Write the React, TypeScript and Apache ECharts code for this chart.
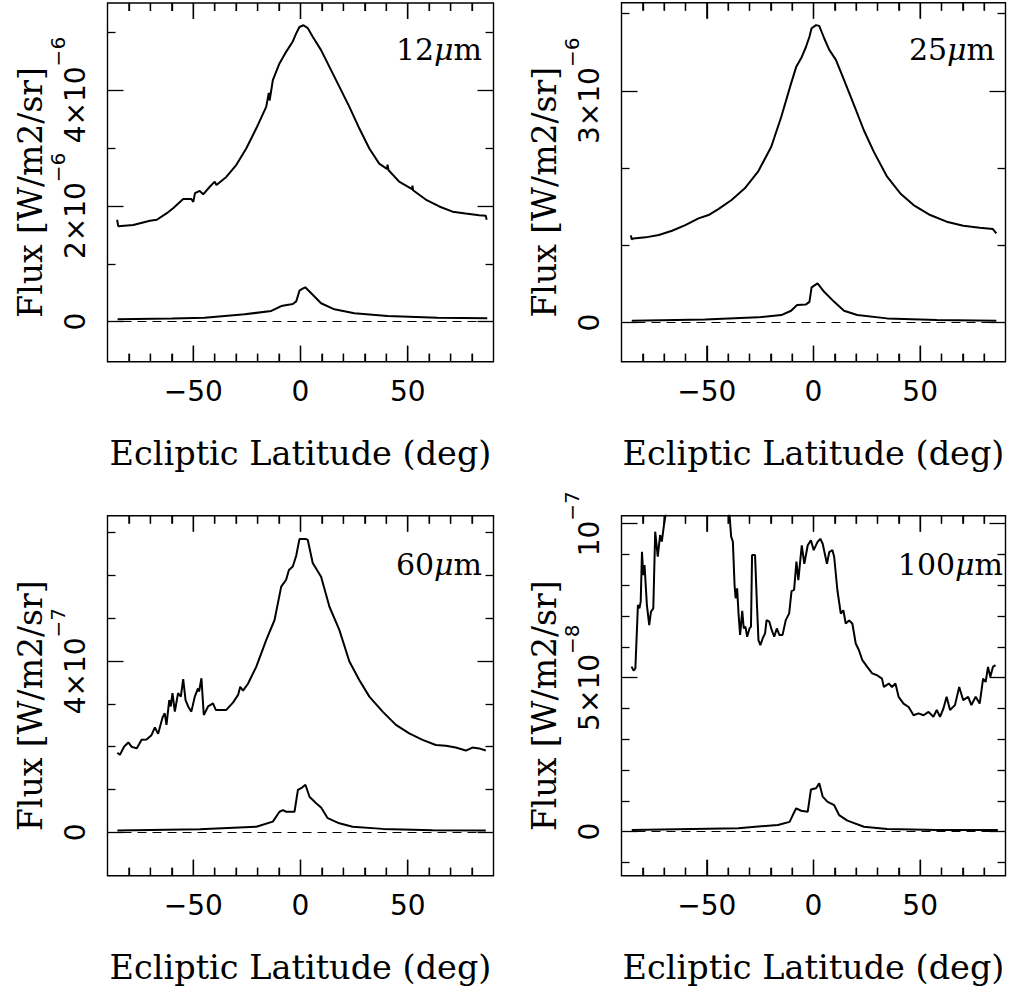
import React, { useEffect, useRef } from "react";
import * as echarts from "echarts";

// ---------- data (latitude in deg, flux in units of the panel's power of ten) ----------
// 12 micron: flux in 1e-6 W/m2/sr
const LAT_12_TOTAL = [-85.5, -85, -78, -70.2, -67, -62.5, -59.4, -54.7, -50.9, -50, -49.2, -47, -45.4, -42.3, -40, -39.2, -34.6, -29.9, -25.3, -20.6, -16, -14.8, -14.4, -12.9, -9.8, -6.7, -3.6, -2, -0.5, 1.4, 3.4, 5.7, 9.6, 13.5, 18.1, 22.8, 27.4, 32.1, 36.7, 40.3, 40.6, 41, 46, 52, 52.2, 52.5, 58.4, 64.7, 70.9, 77, 83.3, 86.4, 86.8];
const FLUX_12_TOTAL = [1.76, 1.65, 1.67, 1.744, 1.76, 1.87, 1.96, 2.12, 2.12, 2.07, 2.22, 2.26, 2.2, 2.33, 2.42, 2.36, 2.5, 2.71, 2.99, 3.34, 3.71, 3.95, 3.82, 4.17, 4.46, 4.66, 4.84, 4.98, 5.09, 5.12, 5.07, 4.92, 4.69, 4.4, 4.06, 3.71, 3.34, 2.99, 2.73, 2.64, 2.71, 2.62, 2.42, 2.29, 2.35, 2.27, 2.11, 1.99, 1.9, 1.87, 1.84, 1.83, 1.76];
const LAT_12_RESID = [-85.3, -60, -44.7, -26, -13.6, -9, -5, -3.6, -2, -0.5, 1, 2.2, 5, 9.6, 15.8, 25.1, 40.6, 63.9, 87.1];
const FLUX_12_RESID = [0.041, 0.055, 0.069, 0.128, 0.185, 0.27, 0.295, 0.306, 0.35, 0.535, 0.57, 0.594, 0.49, 0.318, 0.214, 0.145, 0.098, 0.07, 0.058];

// 25 micron: flux in 1e-6 W/m2/sr
const LAT_25_TOTAL = [-85.6, -85.2, -84.5, -78.7, -72.5, -66.3, -60.1, -53.9, -49.2, -44.6, -38.4, -32.2, -26, -19.8, -15.1, -10.5, -8.1, -5.8, -3.5, -1.9, -0.9, 1.2, 2.7, 5, 7.4, 10.5, 14.3, 19, 23.6, 28.3, 34.5, 40.7, 46.9, 54.7, 62.4, 70.2, 77.9, 84.1, 85.7];
const FLUX_25_TOTAL = [1.13, 1.078, 1.09, 1.104, 1.134, 1.19, 1.263, 1.35, 1.393, 1.47, 1.587, 1.738, 1.953, 2.277, 2.665, 3.096, 3.31, 3.42, 3.57, 3.7, 3.81, 3.85, 3.84, 3.68, 3.53, 3.4, 3.14, 2.816, 2.49, 2.21, 1.889, 1.673, 1.522, 1.393, 1.307, 1.255, 1.229, 1.212, 1.156];
const LAT_25_RESID = [-85.2, -50.8, -26, -15.1, -10.5, -7.7, -3.5, -1.9, -0.9, 1.9, 5, 9.7, 14.3, 20.5, 34.5, 57.8, 85.7];
const FLUX_25_RESID = [0.026, 0.043, 0.069, 0.099, 0.155, 0.229, 0.237, 0.27, 0.457, 0.509, 0.4, 0.27, 0.155, 0.099, 0.056, 0.034, 0.026];

// 60 micron: flux in 1e-7 W/m2/sr
const LAT_60_TOTAL = [-85.4, -84.2, -82.3, -80.3, -78.8, -76.4, -74.1, -71.8, -69.5, -67.9, -66.4, -64.3, -63.3, -62.5, -61.2, -60.5, -59.7, -58.6, -57.1, -55.8, -54.7, -53.6, -52.4, -50.9, -49.3, -47.8, -47.3, -46.2, -45.1, -43.1, -40.8, -39.5, -36.9, -34.6, -31.5, -29.1, -28.1, -26.8, -24.5, -20.6, -16, -12.1, -9, -6.7, -5.4, -3.6, -2, -0.5, 2.6, 3.4, 5.7, 9.6, 13.5, 18.1, 22.8, 27.4, 32.1, 38.3, 44.5, 50.7, 56.9, 63.1, 67.8, 72.4, 77.1, 80.2, 83.3, 86.4];
const FLUX_60_TOTAL = [1.86, 1.81, 2.0, 2.1, 2.0, 1.96, 2.16, 2.17, 2.27, 2.45, 2.3, 2.69, 2.78, 2.51, 3.09, 2.94, 3.25, 2.82, 3.25, 3.17, 3.58, 3.09, 2.94, 2.82, 3.17, 3.36, 3.29, 3.6, 2.74, 2.94, 3.01, 2.86, 2.86, 2.86, 3.03, 3.21, 3.4, 3.31, 3.47, 3.87, 4.49, 4.96, 5.74, 5.9, 6.13, 6.21, 6.46, 6.85, 6.85, 6.83, 6.29, 5.97, 5.27, 4.73, 3.99, 3.56, 3.17, 2.82, 2.51, 2.31, 2.16, 2.04, 2.02, 1.98, 1.91, 1.98, 1.96, 1.91];
const LAT_60_RESID = [-85.4, -47, -20.6, -12.9, -9.8, -8.2, -6.7, -2.8, -1.2, 0.3, 2.3, 4.2, 7.3, 9.6, 12.7, 18.1, 24.3, 38.3, 61.6, 86.4];
const FLUX_60_RESID = [0.04, 0.07, 0.13, 0.25, 0.48, 0.52, 0.48, 0.48, 0.99, 1.03, 1.11, 0.83, 0.68, 0.58, 0.33, 0.21, 0.13, 0.08, 0.05, 0.04];

// 100 micron: flux in 1e-8 W/m2/sr
const LAT_100_TOTAL = [-85.3, -84.3, -83.5, -82.3, -81.6, -81, -80.4, -79.8, -79.2, -78.1, -77, -76.2, -75.1, -74.2, -73, -71.9, -71.1, -69.9, -68.5, -62, -55, -48, -42, -39.3, -38.6, -37.8, -37, -36.5, -35.8, -35.1, -34.4, -33.4, -32.7, -31.9, -31.1, -30, -29.3, -28.8, -27.4, -26.5, -25.8, -24.9, -23.8, -22.7, -22, -20.7, -19.6, -18.4, -17.2, -16, -14.5, -13, -11.4, -10.3, -9.1, -8, -7.1, -5.5, -4.3, -2.7, -1.2, 0.1, 1.9, 3.2, 4.3, 6.3, 7.4, 8.9, 9.7, 11.2, 12.8, 14, 15.1, 16.7, 18.2, 19.8, 21.3, 22.9, 25.2, 27.5, 29.8, 32.1, 33, 35.3, 36.8, 38.4, 39.9, 42.2, 44.6, 46.9, 49.2, 51.6, 53.9, 56.2, 57.8, 59.3, 60.9, 62.4, 64, 66.3, 68.3, 70.2, 72.5, 74, 76, 77.9, 79.5, 80.7, 81.8, 82.9, 84.1, 85.3];
const FLUX_100_TOTAL = [5.36, 5.23, 5.3, 7.36, 7.25, 7.47, 9.09, 8.33, 8.66, 7.36, 6.71, 7.14, 7.25, 9.74, 8.93, 9.63, 9.42, 10.06, 10.6, 11.5, 12.0, 11.8, 11.0, 10.23, 9.58, 9.42, 8.01, 7.58, 7.9, 7.04, 6.39, 7.17, 6.6, 6.66, 6.33, 6.6, 6.66, 8.98, 8.98, 7.36, 6.22, 6.06, 6.28, 6.44, 6.87, 6.82, 6.55, 6.33, 6.6, 6.39, 6.39, 6.87, 7.09, 7.81, 7.85, 8.77, 8.17, 9.3, 8.7, 9.3, 9.46, 9.14, 9.41, 9.51, 9.35, 8.7, 9.08, 9.14, 8.92, 7.84, 7.08, 7.19, 6.76, 6.86, 6.76, 6.11, 5.89, 5.57, 5.35, 5.14, 5.08, 4.97, 4.7, 4.81, 4.7, 4.81, 4.38, 4.16, 4.05, 3.78, 3.84, 3.78, 3.89, 3.73, 3.95, 3.73, 4.0, 4.38, 3.95, 4.11, 4.7, 4.27, 4.38, 4.11, 4.38, 4.16, 4.97, 4.86, 5.35, 5.03, 5.35, 5.41];
const LAT_100_RESID = [-85.2, -35.3, -16.7, -11.2, -9.7, -8.1, -5.8, -2.7, -1.2, 1.2, 2.7, 4.3, 6.6, 9.7, 12, 15.9, 23.6, 34.5, 57.8, 86.4];
const FLUX_100_RESID = [0.054, 0.11, 0.22, 0.32, 0.54, 0.76, 0.68, 0.65, 1.37, 1.41, 1.57, 1.14, 0.97, 0.86, 0.54, 0.36, 0.16, 0.086, 0.054, 0.054];

// ---------- ticks and labels ----------
const X_MAJOR_TICKS = [-50, 0, 50];
const X_MINOR_TICKS = [-80, -70, -60, -40, -30, -20, -10, 10, 20, 30, 40, 60, 70, 80];

const Y12_MAJOR = [0, 2, 4];
const Y12_MINOR = [1, 3, 5];
const Y12_LABELS = [["0", ""], ["2×10", "−6"], ["4×10", "−6"]];

const Y25_MAJOR = [0, 3];
const Y25_MINOR = [1, 2, 4];
const Y25_LABELS = [["0", ""], ["3×10", "−6"]];

const Y60_MAJOR = [0, 4];
const Y60_MINOR = [1, 2, 3, 5, 6, 7];
const Y60_LABELS = [["0", ""], ["4×10", "−7"]];

const Y100_MAJOR = [0, 5, 10];
const Y100_MINOR = [-1, 1, 2, 3, 4, 6, 7, 8, 9];
const Y100_LABELS = [["0", ""], ["5×10", "−8"], ["10", "−7"]];

const BAND_LABELS = ["12", "25", "60", "100"];
const X_NAME = "Ecliptic Latitude (deg)";
const Y_NAME = "Flux [W/m2/sr]";

const SERIF = "DejaVu Serif";
const SANS = "DejaVu Sans";
const MAJOR_LEN = 16;
const MINOR_LEN = 8;

const zip = (xs: number[], ys: number[]) => {
  const n = Math.min(xs.length, ys.length);
  const out: number[][] = [];
  for (let i = 0; i < n; i++) out.push([xs[i], ys[i]]);
  return out;
};

const PANELS = [
  {
    grid: { left: 107.5, top: 3, width: 386, height: 358.7 },
    xMin: -90, xMax: 90, yMin: -0.691, yMax: 5.504,
    total: zip(LAT_12_TOTAL, FLUX_12_TOTAL), resid: zip(LAT_12_RESID, FLUX_12_RESID),
    yMajor: Y12_MAJOR, yMinor: Y12_MINOR, yLabels: Y12_LABELS,
    band: BAND_LABELS[0], bandX: 482, bandY: 49,
  },
  {
    grid: { left: 621.5, top: 2.7, width: 384, height: 359 },
    xMin: -90, xMax: 90, yMin: -0.5045, yMax: 4.14,
    total: zip(LAT_25_TOTAL, FLUX_25_TOTAL), resid: zip(LAT_25_RESID, FLUX_25_RESID),
    yMajor: Y25_MAJOR, yMinor: Y25_MINOR, yLabels: Y25_LABELS,
    band: BAND_LABELS[1], bandX: 995, bandY: 49,
  },
  {
    grid: { left: 107.5, top: 515.7, width: 386, height: 360 },
    xMin: -90, xMax: 90, yMin: -1.014, yMax: 7.397,
    total: zip(LAT_60_TOTAL, FLUX_60_TOTAL), resid: zip(LAT_60_RESID, FLUX_60_RESID),
    yMajor: Y60_MAJOR, yMinor: Y60_MINOR, yLabels: Y60_LABELS,
    band: BAND_LABELS[2], bandX: 482, bandY: 564,
  },
  {
    grid: { left: 621.5, top: 515.7, width: 384, height: 360 },
    xMin: -90, xMax: 90, yMin: -1.4286, yMax: 10.26,
    total: zip(LAT_100_TOTAL, FLUX_100_TOTAL), resid: zip(LAT_100_RESID, FLUX_100_RESID),
    yMajor: Y100_MAJOR, yMinor: Y100_MINOR, yLabels: Y100_LABELS,
    band: BAND_LABELS[3], bandX: 1003, bandY: 564,
  },
];

const X_TICKS = [
  ...X_MAJOR_TICKS.map((v) => ({ v, len: MAJOR_LEN })),
  ...X_MINOR_TICKS.map((v) => ({ v, len: MINOR_LEN })),
];

const TICK_LINE = { color: "#000", width: 1.3 };

// short vertical segments at the bottom and top frame edges, separated by empty points
function frameTickSegments(yLo: number, yHi: number, unitPerPx: number) {
  const out: any[] = [];
  X_TICKS.forEach(({ v, len }) => {
    out.push([v, yLo], [v, yLo + len * unitPerPx], [v, null]);
    out.push([v, yHi], [v, yHi - len * unitPerPx], [v, null]);
  });
  return out;
}

// the same tick segments expressed as mark-line pairs
function frameTickMarkLines(yLo: number, yHi: number, unitPerPx: number) {
  const st = { type: "solid", width: TICK_LINE.width, color: "#000" };
  const out: any[] = [];
  X_TICKS.forEach(({ v, len }) => {
    out.push([
      { coord: [v, yLo], lineStyle: st },
      { coord: [v, yLo + len * unitPerPx], lineStyle: st },
    ]);
    out.push([
      { coord: [v, yHi], lineStyle: st },
      { coord: [v, yHi - len * unitPerPx], lineStyle: st },
    ]);
  });
  return out;
}

function buildOption() {
  const grid: any[] = [];
  const xAxis: any[] = [];
  const yAxis: any[] = [];
  const series: any[] = [];
  const graphic: any[] = [];

  const tick = (vals: number[], len: number) => ({
    show: true, inside: true, length: len, customValues: vals, lineStyle: TICK_LINE,
  });

  PANELS.forEach((p, gi) => {
    grid.push({
      ...p.grid,
      show: true,
      borderColor: "#000",
      borderWidth: 1.4,
      backgroundColor: "transparent",
      containLabel: false,
    });

    const yStart = yAxis.length;
    const yBase = {
      gridIndex: gi,
      type: "value",
      min: p.yMin,
      max: p.yMax,
      splitLine: { show: false },
      axisLine: { show: false, onZero: false },
      minorTick: { show: false },
    };
    const labels = p.yLabels;
    const majors = p.yMajor;
    yAxis.push({
      ...yBase,
      position: "left",
      axisTick: tick(majors, MAJOR_LEN),
      axisLabel: {
        show: true,
        customValues: majors,
        rotate: 90,
        margin: 18,
        formatter: (v: number) => {
          let idx = 0;
          for (let i = 0; i < majors.length; i++) if (Math.abs(majors[i] - v) < 1e-9) idx = i;
          const [m, e] = labels[idx];
          return e ? `{m|${m}}{e|${e}}` : `{m|${m}}`;
        },
        rich: {
          m: { fontSize: 28, fontFamily: SANS, color: "#000", lineHeight: 42, verticalAlign: "bottom" },
          e: { fontSize: 20, fontFamily: SANS, color: "#000", verticalAlign: "top" },
        },
      },
      name: Y_NAME,
      nameLocation: "middle",
      nameGap: 60,
      nameRotate: 90,
      nameTextStyle: { fontSize: 33, fontFamily: SERIF, color: "#000", padding: [0, 20, 0, 0] },
    });
    yAxis.push({ ...yBase, position: "left", axisTick: tick(p.yMinor, MINOR_LEN), axisLabel: { show: false } });
    yAxis.push({ ...yBase, position: "right", axisTick: tick(majors, MAJOR_LEN), axisLabel: { show: false } });
    yAxis.push({ ...yBase, position: "right", axisTick: tick(p.yMinor, MINOR_LEN), axisLabel: { show: false } });

    const xStart = xAxis.length;
    xAxis.push({
      gridIndex: gi,
      type: "value",
      min: p.xMin,
      max: p.xMax,
      position: "bottom",
      splitLine: { show: false },
      minorTick: { show: false },
      axisLine: { show: false, onZero: false },
      axisTick: { show: false },
      axisLabel: {
        show: true,
        customValues: X_MAJOR_TICKS,
        formatter: (v: number) => (v < 0 ? "−" + Math.abs(v) : String(v)),
        margin: 16,
        fontSize: 28,
        fontFamily: SANS,
        color: "#000",
      },
      name: X_NAME,
      nameLocation: "middle",
      nameGap: 75,
      nameTextStyle: { fontSize: 33.5, fontFamily: SERIF, color: "#000" },
    });

    // x-axis ticks (bottom and top edges of the frame)
    const unitPerPx = (p.yMax - p.yMin) / p.grid.height;
    series.push({
      type: "line",
      xAxisIndex: xStart,
      yAxisIndex: yStart,
      data: frameTickSegments(p.yMin, p.yMax, unitPerPx),
      showSymbol: false,
      symbol: "none",
      connectNulls: false,
      clip: false,
      z: 5,
      lineStyle: { color: "#000", width: TICK_LINE.width },
      silent: true,
    });

    series.push({
      type: "line",
      xAxisIndex: xStart,
      yAxisIndex: yStart,
      data: p.total,
      showSymbol: false,
      symbol: "none",
      clip: true,
      lineStyle: { color: "#000", width: 2 },
      silent: true,
    });
    series.push({
      type: "line",
      xAxisIndex: xStart,
      yAxisIndex: yStart,
      data: p.resid,
      showSymbol: false,
      symbol: "none",
      clip: true,
      lineStyle: { color: "#000", width: 2 },
      silent: true,
      markLine: {
        silent: true,
        symbol: ["none", "none"],
        label: { show: false },
        lineStyle: { color: "#000", width: 1, type: [9, 6] },
        data: [{ yAxis: 0 }, ...frameTickMarkLines(p.yMin, p.yMax, unitPerPx)],
      },
    });

    graphic.push({
      type: "text",
      x: p.bandX,
      y: p.bandY,
      silent: true,
      style: {
        text: `{n|${p.band}}{i|μ}{n|m}`,
        align: "right",
        verticalAlign: "middle",
        rich: {
          n: { fontSize: 30, fontFamily: SERIF, fill: "#000" },
          i: { fontSize: 30, fontFamily: SERIF, fontStyle: "italic", fill: "#000" },
        },
      },
    });
  });

  return {
    animation: false,
    backgroundColor: "#fff",
    textStyle: { fontFamily: SERIF, color: "#000" },
    grid,
    xAxis,
    yAxis,
    series,
    graphic,
  };
}

export default function App() {
  const ref = useRef<HTMLDivElement>(null);
  useEffect(() => {
    if (!ref.current) return;
    const chart = echarts.init(ref.current, undefined, { renderer: "svg" });
    chart.setOption(buildOption() as any);
    return () => chart.dispose();
  }, []);
  return (
    <div
      ref={ref}
      style={{ position: "absolute", left: 0, top: 0, width: 1009, height: 992, background: "#fff" }}
    />
  );
}
